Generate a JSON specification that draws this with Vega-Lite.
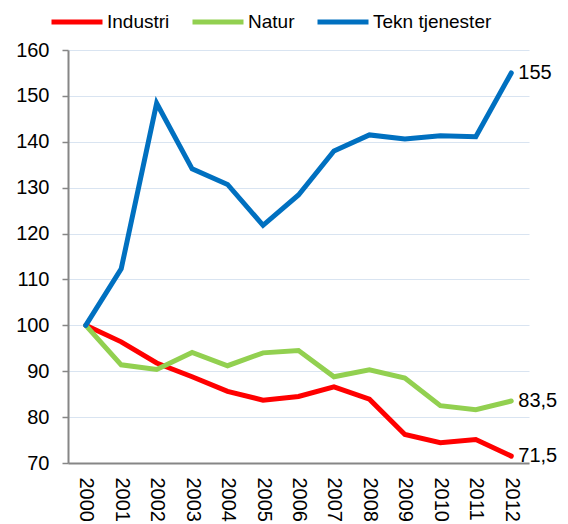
{
  "$schema": "https://vega.github.io/schema/vega-lite/v6.json",
  "width": 461,
  "height": 413,
  "autosize": {"type": "none"},
  "padding": {"left": 68, "top": 50, "right": 39, "bottom": 61},
  "config": {
    "view": {"stroke": null},
    "font": "Liberation Sans",
    "locale": {"number": {"decimal": ",", "thousands": " ", "grouping": [3], "currency": ["", ""]}}
  },
  "data": {
    "values": [
      {"year": "2000", "series": "Industri", "value": 100},
      {"year": "2001", "series": "Industri", "value": 96.4},
      {"year": "2002", "series": "Industri", "value": 91.8},
      {"year": "2003", "series": "Industri", "value": 88.8},
      {"year": "2004", "series": "Industri", "value": 85.6},
      {"year": "2005", "series": "Industri", "value": 83.7},
      {"year": "2006", "series": "Industri", "value": 84.5},
      {"year": "2007", "series": "Industri", "value": 86.6},
      {"year": "2008", "series": "Industri", "value": 83.9},
      {"year": "2009", "series": "Industri", "value": 76.2},
      {"year": "2010", "series": "Industri", "value": 74.4},
      {"year": "2011", "series": "Industri", "value": 75.1},
      {"year": "2012", "series": "Industri", "value": 71.5},
      {"year": "2000", "series": "Natur", "value": 100},
      {"year": "2001", "series": "Natur", "value": 91.4},
      {"year": "2002", "series": "Natur", "value": 90.4},
      {"year": "2003", "series": "Natur", "value": 94.1},
      {"year": "2004", "series": "Natur", "value": 91.2},
      {"year": "2005", "series": "Natur", "value": 94.0},
      {"year": "2006", "series": "Natur", "value": 94.5},
      {"year": "2007", "series": "Natur", "value": 88.8},
      {"year": "2008", "series": "Natur", "value": 90.3},
      {"year": "2009", "series": "Natur", "value": 88.5},
      {"year": "2010", "series": "Natur", "value": 82.5},
      {"year": "2011", "series": "Natur", "value": 81.6},
      {"year": "2012", "series": "Natur", "value": 83.5},
      {"year": "2000", "series": "Tekn tjenester", "value": 100},
      {"year": "2001", "series": "Tekn tjenester", "value": 112.3},
      {"year": "2002", "series": "Tekn tjenester", "value": 148.4},
      {"year": "2003", "series": "Tekn tjenester", "value": 134.1},
      {"year": "2004", "series": "Tekn tjenester", "value": 130.7},
      {"year": "2005", "series": "Tekn tjenester", "value": 121.8},
      {"year": "2006", "series": "Tekn tjenester", "value": 128.4},
      {"year": "2007", "series": "Tekn tjenester", "value": 138.0},
      {"year": "2008", "series": "Tekn tjenester", "value": 141.5},
      {"year": "2009", "series": "Tekn tjenester", "value": 140.6},
      {"year": "2010", "series": "Tekn tjenester", "value": 141.3},
      {"year": "2011", "series": "Tekn tjenester", "value": 141.1},
      {"year": "2012", "series": "Tekn tjenester", "value": 155}
    ]
  },
  "encoding": {
    "x": {
      "field": "year",
      "type": "ordinal",
      "scale": {"type": "point", "padding": 0.5},
      "axis": {
        "title": null,
        "labelAngle": 90,
        "labelAlign": "left",
        "labelBaseline": "middle",
        "labelFontSize": 20,
        "labelColor": "#000000",
        "labelPadding": 14,
        "ticks": false,
        "grid": false,
        "domainColor": "#868686",
        "domainWidth": 2
      }
    },
    "y": {
      "field": "value",
      "type": "quantitative",
      "scale": {"domain": [70, 160], "nice": false, "zero": false},
      "axis": {
        "title": null,
        "values": [70, 80, 90, 100, 110, 120, 130, 140, 150, 160],
        "labelFontSize": 20,
        "labelColor": "#000000",
        "labelPadding": 13,
        "tickSize": 6,
        "tickColor": "#868686",
        "tickWidth": 1.5,
        "domainColor": "#868686",
        "domainWidth": 2,
        "gridColor": "#D9E4F1",
        "gridWidth": 1.2
      }
    },
    "color": {
      "field": "series",
      "type": "nominal",
      "scale": {
        "domain": ["Industri", "Natur", "Tekn tjenester"],
        "range": ["#FF0000", "#92D050", "#0070C0"]
      },
      "legend": {
        "title": null,
        "orient": "none",
        "direction": "horizontal",
        "legendX": -19,
        "legendY": -56,
        "symbolType": "stroke",
        "symbolSize": 2601,
        "symbolStrokeWidth": 5,
        "labelFontSize": 19,
        "labelColor": "#000000",
        "labelOffset": 2,
        "columnPadding": 12
      }
    }
  },
  "layer": [
    {
      "mark": {"type": "line", "strokeWidth": 5, "strokeJoin": "miter", "strokeCap": "round"}
    },
    {
      "transform": [{"filter": "datum.year == '2012'"}],
      "mark": {"type": "text", "align": "left", "baseline": "middle", "dx": 7, "fontSize": 20, "color": "#000000"},
      "encoding": {
        "text": {"field": "value", "type": "quantitative", "format": ".1~f"},
        "color": {"value": "#000000"}
      }
    }
  ]
}
